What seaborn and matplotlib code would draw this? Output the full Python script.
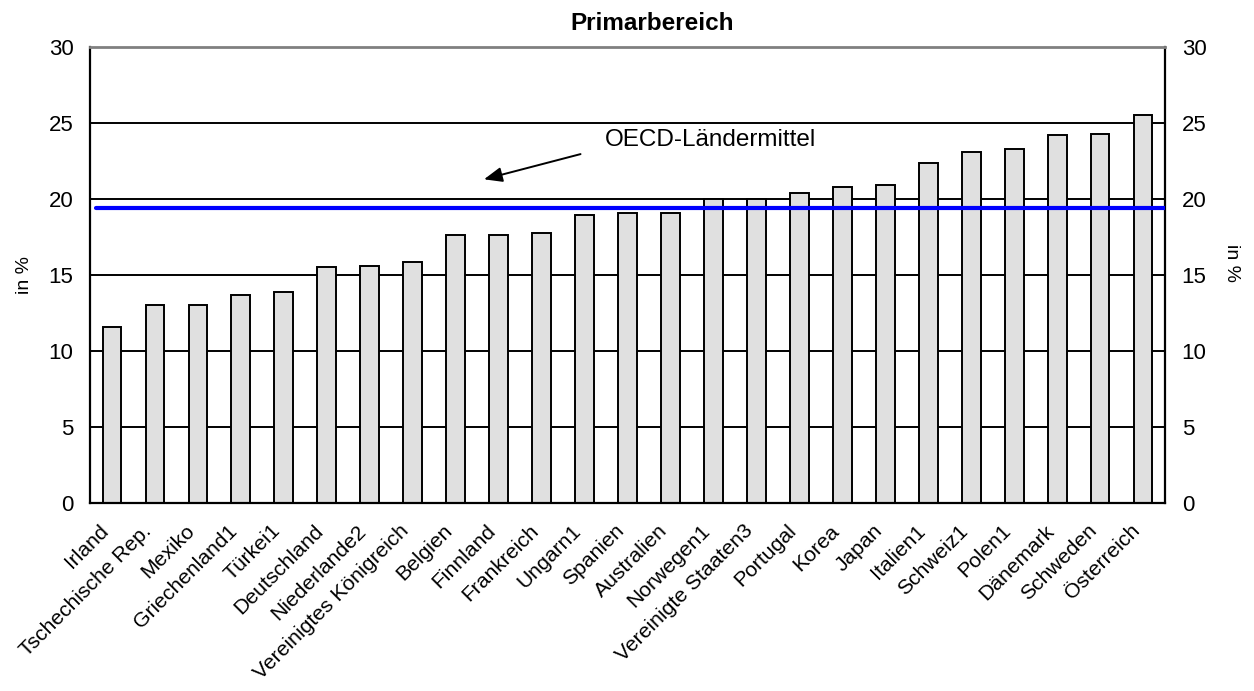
import numpy as np
import pandas as pd
import matplotlib
matplotlib.use("Agg")
import matplotlib.pyplot as plt
import matplotlib.transforms as mtransforms
import seaborn as sns

countries = ["Irland", "Tschechische Rep.", "Mexiko", "Griechenland1", "Türkei1",
             "Deutschland", "Niederlande2", "Vereinigtes Königreich", "Belgien",
             "Finnland", "Frankreich", "Ungarn1", "Spanien", "Australien",
             "Norwegen1", "Vereinigte Staaten3", "Portugal", "Korea", "Japan",
             "Italien1", "Schweiz1", "Polen1", "Dänemark", "Schweden", "Österreich"]
values = [11.6, 13.0, 13.0, 13.7, 13.9, 15.5, 15.6, 15.85, 17.6, 17.6, 17.75,
          18.95, 19.05, 19.05, 20.0, 20.0, 20.4, 20.8, 20.9, 22.35, 23.1, 23.3,
          24.2, 24.3, 25.5]
oecd_mean = 19.4
y_ticks = [0, 5, 10, 15, 20, 25, 30]

sns.set_style("white")
plt.rcParams['font.family'] = ['Liberation Sans', 'DejaVu Sans']
plt.rcParams['text.color'] = 'black'
plt.rcParams['axes.labelcolor'] = 'black'
plt.rcParams['xtick.color'] = 'black'
plt.rcParams['ytick.color'] = 'black'

df = pd.DataFrame({"Land": countries, "Wert": values})

fig = plt.figure(figsize=(12.54, 6.91), dpi=100)
ax = fig.add_axes([0.0718, 0.272, 0.8572, 0.660])

# gridlines first so bars sit on top
for t in y_ticks[1:-1]:
    ax.axhline(t, color="black", lw=1.4, zorder=1)

sns.barplot(data=df, x="Land", y="Wert", color="#e0e0e0", edgecolor="black",
            linewidth=1.4, width=0.42, saturation=1, ax=ax, zorder=2)

ax.axhline(oecd_mean, xmin=0.006, xmax=1, color="#0000ff", lw=3, zorder=3)

ax.set_ylim(0, 30)
ax.set_xlim(-0.5, len(countries) - 0.5)
ax.set_yticks(y_ticks)
ax.tick_params(axis="y", labelsize=16, length=0, pad=12)
ax.tick_params(axis="x", labelsize=15.2, length=0, pad=13)
ax.set_xticks(range(len(countries)))
ax.set_xticklabels(countries, rotation=45, ha="right", rotation_mode="anchor")
shift = mtransforms.ScaledTranslation(-0.13, 0, fig.dpi_scale_trans)
for lab in ax.get_xticklabels():
    lab.set_transform(lab.get_transform() + shift)
ax.set_xlabel("")
ax.set_ylabel("in %", fontsize=14)
ax.yaxis.set_label_coords(-0.053, 0.5)

for side in ["left", "right", "bottom"]:
    ax.spines[side].set_color("black")
    ax.spines[side].set_linewidth(1.6)
ax.spines["top"].set_color("#808080")
ax.spines["top"].set_linewidth(2)

ax2 = ax.twinx()
ax2.set_ylim(0, 30)
ax2.set_yticks(y_ticks)
ax2.tick_params(axis="y", labelsize=16, length=0, pad=12)
ax2.set_ylabel("in %", fontsize=14, rotation=270, va="center")
ax2.yaxis.set_label_coords(1.062, 0.526)
for s in ax2.spines.values():
    s.set_visible(False)

ax.set_title("Primarbereich", fontsize=17.5, fontweight="bold", x=0.523, pad=12)

ax.annotate("", xy=(8.6, 21.25), xytext=(10.97, 23.0),
            arrowprops=dict(arrowstyle="-|>,head_length=1.1,head_width=0.45",
                            color="black", lw=1.4), zorder=5)
ax.text(11.48, 23.9, "OECD-Ländermittel", fontsize=17.5, va="center", ha="left")

fig.savefig("out.png", dpi=100)
